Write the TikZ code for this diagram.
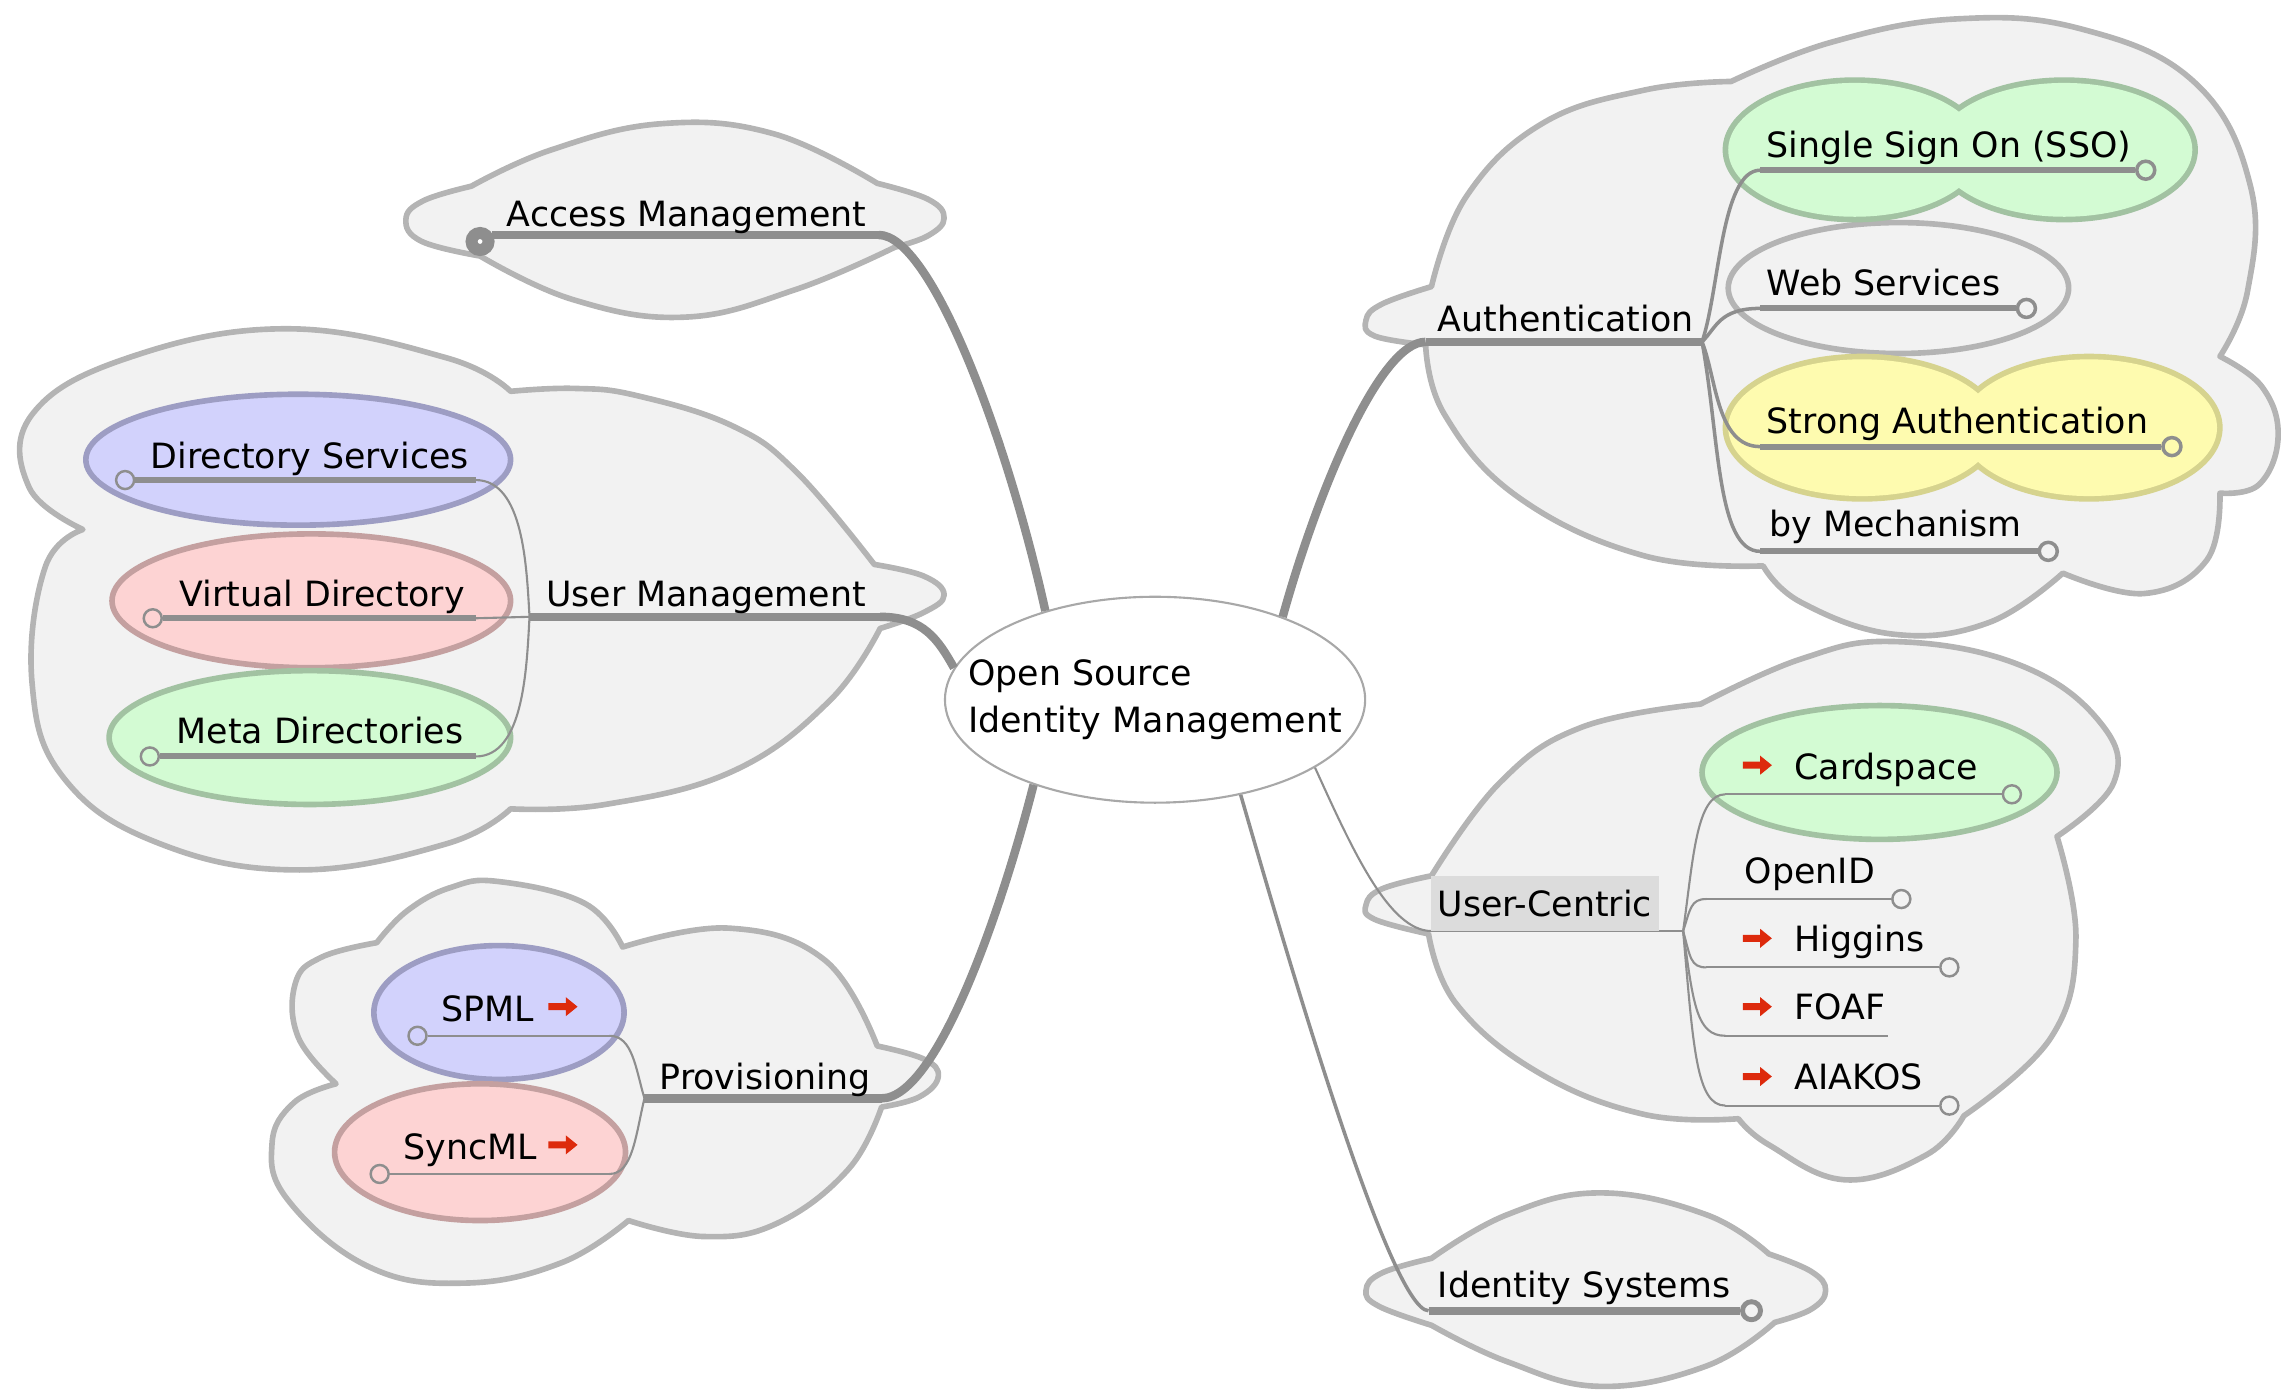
\documentclass[tikz,border=0pt]{standalone}
\usepackage{fontspec}
\setmainfont{DejaVu Sans}
\usepackage{tikz}
\usetikzlibrary{shapes.geometric}
\definecolor{cloudfill}{HTML}{F2F2F2}
\definecolor{cloudline}{HTML}{B4B4B4}
\definecolor{edgegray}{HTML}{8E8E8E}
\definecolor{bluefill}{HTML}{D2D2FC}
\definecolor{blueline}{HTML}{9D9DC3}
\definecolor{pinkfill}{HTML}{FDD3D3}
\definecolor{pinkline}{HTML}{C4A0A0}
\definecolor{greenfill}{HTML}{D3FBD3}
\definecolor{greenline}{HTML}{A2C2A2}
\definecolor{yellowfill}{HTML}{FEFBAF}
\definecolor{yellowline}{HTML}{D6D38E}
\definecolor{arrowred}{HTML}{DD2A0C}
\definecolor{rootline}{HTML}{A8A8A8}
\definecolor{ucbg}{HTML}{DCDCDC}
\newcommand{\mmfont}{\fontsize{9.9}{13.4}\selectfont}
\tikzset{
  cloudbox/.style={draw=cloudline, fill=cloudfill, line width=1.6pt, line join=round},
  cloudbump/.style={smooth, tension=0.7},
  bubble/.style={draw=#1line, fill=#1fill, line width=1.6pt},
  topic/.style={anchor=base west, inner sep=0pt, font=\mmfont},
  root/.style={ellipse, draw=rootline, fill=white, line width=0.6pt, font=\mmfont,
    align=left, inner xsep=-0.383cm, inner ysep=0.327cm},
  mainedge/.style={draw=edgegray, line width=2.4pt},
  subline/.style={draw=edgegray, line width=1.7pt},
  midedge/.style={draw=edgegray, line width=1pt},
  thinedge/.style={draw=edgegray, line width=0.6pt},
  fold/.style={circle, draw=edgegray, line width=0.7pt, minimum size=0.18cm, inner sep=0pt},
  foldbig/.style={fold, fill=white, line width=3.4pt, minimum size=0.17cm},
  redarrow/.pic={\fill[arrowred] (-10,-2.4) -- (2,-2.4) -- (2,-6.5) -- (10,0) -- (2,6.5)
    -- (2,2.4) -- (-10,2.4) -- cycle;},
}
\begin{document}
\begin{tikzpicture}[x=0.014547cm, y=-0.014547cm]
\useasboundingbox (0,0) rectangle (1568,956);

\draw[cloudbox] plot[cloudbump] coordinates {(330,176) (290,166) (279,151) (291,138) (324,128)}
  -- plot[cloudbump] coordinates {(324,128) (379,103) (455,85) (532,92) (603,126)}
  -- plot[cloudbump] coordinates {(603,126) (638,137) (649,150) (638,162) (615,170)}
  -- plot[cloudbump] coordinates {(615,170) (547,199) (471,218) (394,206) (330,176)} -- cycle;

\draw[cloudbox] plot[cloudbump] coordinates {(57,364) (20,335) (22,285) (88,246) (197,226) (307,246) (351,269)}
  -- plot[cloudbump] coordinates {(351,269) (395,267) (438,272) (504,293) (548,325) (601,388)}
  -- plot[cloudbump] coordinates {(601,388) (635,396) (649,409) (635,421) (605,432)}
  -- plot[cloudbump] coordinates {(605,432) (570,482) (504,530) (416,553) (351,556)}
  -- plot[cloudbump] coordinates {(351,556) (307,580) (206,598) (110,580) (44,535) (22,469) (31,390) (57,364)} -- cycle;

\draw[cloudbox] plot[cloudbump] coordinates {(259,648) (280,626) (310,610) (343,606) (402,621) (428,651)}
  -- plot[cloudbump] coordinates {(428,651) (501,638) (567,660) (603,719)}
  -- plot[cloudbump] coordinates {(603,719) (635,728) (645,740) (632,754) (606,761)}
  -- plot[cloudbump] coordinates {(606,761) (583,804) (534,841) (484,850) (432,839)}
  -- plot[cloudbump] coordinates {(432,839) (386,868) (320,882) (254,871) (198,825) (187,786) (202,758) (231,745)}
  -- plot[cloudbump] coordinates {(231,745) (205,713) (203,676) (221,658) (259,648)} -- cycle;

\draw[cloudbox] plot[cloudbump] coordinates {(980,237) (945,231) (939,220) (950,209) (984,197)}
  -- plot[cloudbump] coordinates {(984,197) (1008,135) (1060,85) (1130,62) (1190,56)}
  -- plot[cloudbump] coordinates {(1190,56) (1259,29) (1345,13) (1431,20) (1509,57) (1547,128) (1545,200) (1526,245)}
  -- plot[cloudbump] coordinates {(1526,245) (1555,266) (1566,300) (1553,333) (1526,339)}
  -- plot[cloudbump] coordinates {(1526,339) (1517,385) (1474,408) (1418,394)}
  -- plot[cloudbump] coordinates {(1418,394) (1367,428) (1302,436) (1238,414) (1212,389)}
  -- plot[cloudbump] coordinates {(1212,389) (1130,382) (1044,342) (993,285) (980,237)} -- cycle;

\draw[cloudbox] plot[cloudbump] coordinates {(982,642) (945,632) (939,622) (950,611) (984,602)}
  -- plot[cloudbump] coordinates {(984,602) (1031,538) (1087,500) (1169,484)}
  -- plot[cloudbump] coordinates {(1169,484) (1238,453) (1302,441) (1388,457) (1444,497) (1453,538) (1414,575)}
  -- plot[cloudbump] coordinates {(1414,575) (1427,646) (1410,713) (1350,767)}
  -- plot[cloudbump] coordinates {(1350,767) (1324,794) (1268,811) (1216,787) (1195,769)}
  -- plot[cloudbump] coordinates {(1195,769) (1130,766) (1057,737) (1001,690) (982,642)} -- cycle;

\draw[cloudbox] plot[cloudbump] coordinates {(984,911) (948,898) (939,887) (950,875) (984,865)}
  -- plot[cloudbump] coordinates {(984,865) (1036,835) (1100,820) (1173,835) (1216,862)}
  -- plot[cloudbump] coordinates {(1216,862) (1245,874) (1255,887) (1245,900) (1220,909)}
  -- plot[cloudbump] coordinates {(1220,909) (1173,939) (1100,953) (1036,936) (984,911)} -- cycle;

\draw[bubble=blue] (205,316) ellipse [x radius=146, y radius=45];
\draw[bubble=pink] (214,413) ellipse [x radius=137, y radius=46];
\draw[bubble=green] (213,507) ellipse [x radius=138, y radius=46];
\draw[bubble=blue] (343,696) ellipse [x radius=86, y radius=46];
\draw[bubble=pink] (330,792) ellipse [x radius=100, y radius=47];
\draw[bubble=cloud] (1305,198) ellipse [x radius=117, y radius=45];
\draw[bubble=green] (1292,531) ellipse [x radius=122, y radius=46];
\draw[bubble=green, line width=3.2pt] (1275,103) ellipse [x radius=87, y radius=46]
  (1419,103) ellipse [x radius=88, y radius=46];
\fill[greenfill] (1275,103) ellipse [x radius=87, y radius=46]
  (1419,103) ellipse [x radius=88, y radius=46];
\draw[bubble=yellow, line width=3.2pt] (1280,294) ellipse [x radius=92, y radius=47]
  (1436,294) ellipse [x radius=88, y radius=47];
\fill[yellowfill] (1280,294) ellipse [x radius=92, y radius=47]
  (1436,294) ellipse [x radius=88, y radius=47];

\node[root] (root) at (794,481) {Open Source\\Identity Management};

\coordinate (acc-l) at (338,161.5);
\coordinate (acc-r) at (604,161.5);
\coordinate (usr-j) at (364,424);
\coordinate (usr-r) at (605,424);
\coordinate (ds-r) at (327,330);
\coordinate (vd-r) at (327,425);
\coordinate (md-r) at (327,520);
\coordinate (prv-j) at (443,755);
\coordinate (prv-r) at (606,755);
\coordinate (spml-r) at (419,712);
\coordinate (sync-r) at (419,807);
\coordinate (aut-l) at (980,235);
\coordinate (aut-j) at (1170,235);
\coordinate (sso-l) at (1210,117);
\coordinate (web-l) at (1210,212);
\coordinate (str-l) at (1210,307);
\coordinate (mech-l) at (1210,379);
\coordinate (uc-l) at (984,640);
\coordinate (uc-j) at (1157,640);
\coordinate (card-l) at (1186,546);
\coordinate (oid-l) at (1173,618);
\coordinate (hig-l) at (1173,665);
\coordinate (foaf-l) at (1186,712);
\coordinate (foaf-r) at (1298,712);
\coordinate (aia-l) at (1186,760);
\coordinate (ids-l) at (982,901);

\node[fold] (ds-c) at (86,330) {};
\node[fold] (vd-c) at (105,425) {};
\node[fold] (md-c) at (103,520) {};
\node[fold] (spml-c) at (287,712) {};
\node[fold] (sync-c) at (261,807) {};
\node[fold, line width=1pt] (sso-c) at (1475,117) {};
\node[fold, line width=1pt] (web-c) at (1393,212) {};
\node[fold, line width=1pt] (str-c) at (1493,307) {};
\node[fold, line width=1pt] (mech-c) at (1408,379) {};
\node[fold] (card-c) at (1383,546) {};
\node[fold] (oid-c) at (1307,618) {};
\node[fold] (hig-c) at (1340,665) {};
\node[fold] (aia-c) at (1340,760) {};
\node[fold, line width=1.4pt] (ids-c) at (1204,901) {};

\draw[mainedge] (acc-l) -- (acc-r);
\node[foldbig] (acc-c) at (330,166) {};
\draw[mainedge] (acc-r) .. controls (640,161.5) and (692,300) .. (root.141);
\draw[mainedge] (usr-j) -- (usr-r);
\draw[mainedge] (usr-r) .. controls (635,424) and (645,440) .. (root.171);
\draw[mainedge] (prv-j) -- (prv-r);
\draw[mainedge] (prv-r) .. controls (645,755) and (690,620) .. (root.215);
\draw[mainedge] (aut-l) -- (aut-j);
\draw[mainedge] (aut-l) .. controls (948,235) and (905,340) .. (root.33);
\draw[thinedge] (uc-l) -- (uc-j);
\draw[thinedge] (uc-l) .. controls (955,640) and (930,585) .. (root.337);
\draw[mainedge] (ids-l) -- (ids-c);
\draw[midedge] (ids-l) .. controls (955,901) and (880,640) .. (root.312);

\draw[subline] (ds-c) -- (ds-r);
\draw[subline] (vd-c) -- (vd-r);
\draw[subline] (md-c) -- (md-r);
\draw[thinedge] (usr-j) .. controls (362,390) and (360,330) .. (ds-r);
\draw[thinedge] (usr-j) -- (vd-r);
\draw[thinedge] (usr-j) .. controls (362,460) and (360,520) .. (md-r);

\draw[thinedge] (spml-c) -- (spml-r);
\draw[thinedge] (sync-c) -- (sync-r);
\draw[thinedge] (prv-j) .. controls (437,735) and (435,712) .. (spml-r);
\draw[thinedge] (prv-j) .. controls (437,780) and (435,807) .. (sync-r);

\draw[subline] (sso-l) -- (sso-c);
\draw[subline] (web-l) -- (web-c);
\draw[subline] (str-l) -- (str-c);
\draw[subline] (mech-l) -- (mech-c);
\draw[midedge] (aut-j) .. controls (1182,200) and (1183,117) .. (sso-l);
\draw[midedge] (aut-j) .. controls (1180,225) and (1182,212) .. (web-l);
\draw[midedge] (aut-j) .. controls (1180,260) and (1180,307) .. (str-l);
\draw[midedge] (aut-j) .. controls (1182,300) and (1180,379) .. (mech-l);

\draw[thinedge] (card-l) -- (card-c);
\draw[thinedge] (oid-l) -- (oid-c);
\draw[thinedge] (hig-l) -- (hig-c);
\draw[thinedge] (foaf-l) -- (foaf-r);
\draw[thinedge] (aia-l) -- (aia-c);
\draw[thinedge] (uc-j) .. controls (1164,590) and (1166,546) .. (card-l);
\draw[thinedge] (uc-j) .. controls (1162,625) and (1162,618) .. (oid-l);
\draw[thinedge] (uc-j) .. controls (1162,658) and (1162,665) .. (hig-l);
\draw[thinedge] (uc-j) .. controls (1164,690) and (1166,712) .. (foaf-l);
\draw[thinedge] (uc-j) .. controls (1164,720) and (1166,760) .. (aia-l);

\node[topic] (acc) at (348,156) {Access Management};
\node[topic] (usr) at (375,417) {User Management};
\node[topic] (ds) at (103,322) {Directory Services};
\node[topic] (vd) at (123,417) {Virtual Directory};
\node[topic] (md) at (121,511) {Meta Directories};
\node[topic] (prv) at (453,749) {Provisioning};
\node[topic] (spml) at (303,702) {SPML};
\pic (spml-i) at (387,692) {redarrow};
\node[topic] (sync) at (277,797) {SyncML};
\pic (sync-i) at (387,787) {redarrow};
\node[topic] (aut) at (988,228) {Authentication};
\node[topic] (sso) at (1214,108) {Single Sign On (SSO)};
\node[topic] (web) at (1214,203) {Web Services};
\node[topic] (str) at (1214,298) {Strong Authentication};
\node[topic] (mech) at (1216,369) {by Mechanism};
\node[topic, fill=ucbg, inner xsep=0.07cm, inner ysep=0.14cm] (uc) at (983,630) {User-Centric};
\pic (card-i) at (1208,526) {redarrow};
\node[topic] (card) at (1233,536) {Cardspace};
\node[topic] (oid) at (1199,607) {OpenID};
\pic (hig-i) at (1208,645) {redarrow};
\node[topic] (hig) at (1233,654) {Higgins};
\pic (foaf-i) at (1208,692) {redarrow};
\node[topic] (foaf) at (1233,701) {FOAF};
\pic (aia-i) at (1208,740) {redarrow};
\node[topic] (aia) at (1233,749) {AIAKOS};
\node[topic] (ids) at (988,892) {Identity Systems};
\end{tikzpicture}
\end{document}
